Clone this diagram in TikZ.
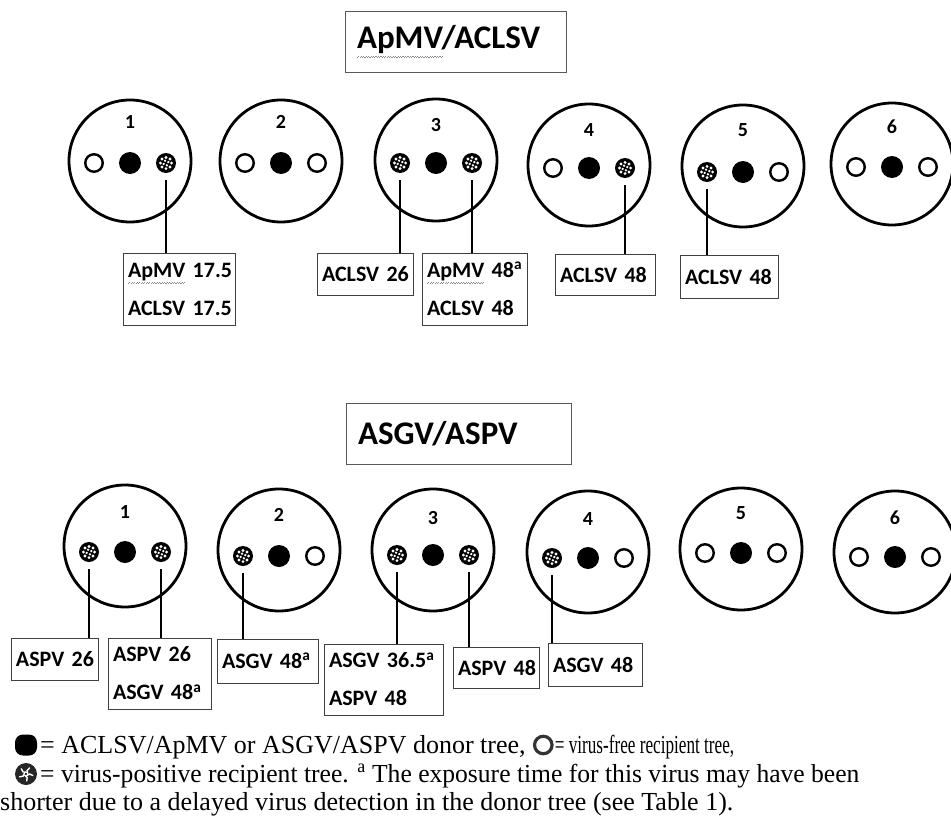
\documentclass[tikz,border=0pt]{standalone}
\usepackage{fontspec}
\usepackage{graphicx}
\setmainfont{Liberation Serif}
\newfontfamily\carlito{Carlito}
\usetikzlibrary{calc}

% grey wavy underline (spell-check mark) built from small staggered rules
\newsavebox\spellbox
\newcommand\spellmark[1]{\sbox\spellbox{#1}%
  \rlap{\textcolor{black!45}{\raisebox{-0.3em}{\hbox to\wd\spellbox{%
    \xleaders\hbox{\rule{1.2pt}{0.9pt}\raisebox{0.9pt}{\rule{1.2pt}{0.9pt}}}\hfill}}}}#1}

\tikzset{
  bigring/.style={circle, draw, line width=2.8pt, minimum size=122pt, inner sep=0pt},
  treenum/.style={font=\carlito\bfseries\fontsize{20}{20}\selectfont, inner sep=0pt},
  freetree/.style={circle, draw, line width=2.4pt, minimum size=17.5pt, inner sep=0pt},
  donortree/.style={circle, fill=black, minimum size=22pt, inner sep=0pt},
  postree/.style={circle, fill=black, minimum size=20pt, inner sep=0pt,
    path picture={
      \foreach \a in {0,45,...,315}
        \fill[white] ($(path picture bounding box.center)+(\a:5.6pt)$) circle (1.6pt);
      \foreach \a in {22,112,202,292}
        \fill[white] ($(path picture bounding box.center)+(\a:2.5pt)$) circle (1.3pt);
    }},
  lbl/.style={draw=black!75, line width=1pt,
    font=\carlito\bfseries\fontsize{22}{38}\selectfont,
    align=left, inner xsep=5pt, inner ysep=0pt},
  titlebox/.style={draw=black!65, line width=1pt,
    font=\carlito\bfseries\fontsize{33}{33}\selectfont,
    align=left, inner xsep=12pt, inner ysep=0pt},
  link/.style={line width=2pt, shorten <=7pt},
  legtext/.style={font=\fontsize{26}{29}\selectfont, inner sep=0pt, anchor=base west},
  legdonor/.style={rectangle, rounded corners=8pt, fill=black, minimum width=22pt,
    minimum height=21pt, inner sep=0pt},
  legfree/.style={circle, draw=black!80, line width=3.2pt, minimum size=17.5pt, inner sep=0pt},
  legpos/.style={circle, fill=black!85, minimum size=22pt, inner sep=0pt,
    path picture={
      \foreach \a in {0,72,...,288}
        \draw[white, line width=1.4pt, line cap=round]
          ($(path picture bounding box.center)+(\a:1.8pt)$) to[bend left=60]
          ($(path picture bounding box.center)+(\a+60:7pt)$);
    }},
}

% one tree plot: name, x, circle y, number y, row y, number, left tree, right tree
\newcommand\orchardtree[8]{%
  \node[bigring] (#1) at (#2,#3) {};
  \node[treenum] (#1n) at (#2,#4) {#6};
  \node[#7] (#1l) at (#2-36,#5) {};
  \node[donortree] (#1c) at (#2,#5) {};
  \node[#8] (#1r) at (#2+36,#5) {};
}

\begin{document}
\begin{tikzpicture}[x=1pt, y=-1pt]
\useasboundingbox (0,0) rectangle (951,830);

% ---------- ApMV / ACLSV ----------
\node[titlebox, text width=197pt, minimum height=61pt] (ttop) at (455.5,41.5) {\spellmark{ApMV}/ACLSV};

\orchardtree{t1}{130}{161}{122}{163}{1}{freetree}{postree}
\orchardtree{t2}{281}{161}{122}{163}{2}{freetree}{freetree}
\orchardtree{t3}{436}{160}{125}{163}{3}{postree}{postree}
\orchardtree{t4}{589}{165}{130}{168}{4}{freetree}{postree}
\orchardtree{t5}{743}{166}{130}{172}{5}{postree}{freetree}
\orchardtree{t6}{892}{164}{127}{167}{6}{freetree}{freetree}

\node[lbl, text width=102pt, minimum height=72pt] (a1) at (179,289) {\spellmark{ApMV}~17.5\\ACLSV~17.5};
\node[lbl, text width=86pt, minimum height=42pt] (a3l) at (365,274) {ACLSV~26};
\node[lbl, text width=95pt, minimum height=72pt] (a3r) at (474.5,289) {\spellmark{ApMV}~48\textsuperscript{a}\\ACLSV~48};
\node[lbl, text width=90pt, minimum height=41pt] (a4) at (605,274.5) {ACLSV~48};
\node[lbl, text width=88pt, minimum height=43pt] (a5) at (729,276.5) {ACLSV~48};

\draw[link] (t1r) -- (a1.north -| t1r);
\draw[link] (t3l) -- (a3l.north -| t3l);
\draw[link] (t3r) -- (a3r.north -| t3r);
\draw[link] (t4r) -- (a4.north -| t4r);
\draw[link] (t5l) -- (a5.north -| t5l);

% ---------- ASGV / ASPV ----------
\node[titlebox, text width=201pt, minimum height=61pt] (tbot) at (458.5,433.5) {ASGV/ASPV};

\orchardtree{b1}{125}{546}{512}{552}{1}{postree}{postree}
\orchardtree{b2}{279}{550}{515}{556}{2}{postree}{freetree}
\orchardtree{b3}{433}{550}{518}{555}{3}{postree}{postree}
\orchardtree{b4}{588}{552}{519}{558}{4}{postree}{freetree}
\orchardtree{b5}{741}{549}{513}{553}{5}{freetree}{freetree}
\orchardtree{b6}{895}{552}{518}{557}{6}{freetree}{freetree}

\node[lbl, text width=77pt, minimum height=42pt] (c1l) at (54.5,659) {ASPV~26};
\node[lbl, text width=93pt, minimum height=71pt] (c1r) at (159.5,673.5) {ASPV~26\\ASGV~48\textsuperscript{a}};
\node[lbl, text width=91pt, minimum height=44pt] (c2) at (267.5,661) {ASGV~48\textsuperscript{a}};
\node[lbl, text width=109pt, minimum height=71pt] (c3l) at (383.5,679.5) {ASGV~36.5\textsuperscript{a}\\ASPV~48};
\node[lbl, text width=76pt, minimum height=41pt] (c3r) at (496,667.5) {ASPV~48};
\node[lbl, text width=84pt, minimum height=43pt] (c4) at (595,664.5) {ASGV~48};

\draw[link] (b1l) -- (c1l.north -| b1l);
\draw[link] (b1r) -- (c1r.north -| b1r);
\draw[link] (b2l) -- (c2.north -| b2l);
\draw[link] (b3l) -- (c3l.north -| b3l);
\draw[link] (b3r) -- (c3r.north -| b3r);
\draw[link] (b4l) -- (c4.north -| b4l);

% ---------- key ----------
\node[legdonor] (k1) at (26,745) {};
\node[legtext] (k1t) at (40,753) {= ACLSV/ApMV or ASGV/ASPV donor tree,};
\node[legfree, anchor=west] (k2) at ([xshift=7pt, yshift=8pt]k1t.base east) {};
\node[legtext] (k2t) at ([xshift=1pt]k2.east |- k1t.base) {\scalebox{0.66}[1]{= virus-free recipient tree,}};
\node[legpos] (k3) at (26,774) {};
\node[legtext] (k3t) at (40,782) {\scalebox{0.984}[1]{= virus-positive recipient tree. \textsuperscript{a} The exposure time for this virus may have been}};
\node[legtext] (k4t) at (0,810) {shorter due to a delayed virus detection in the donor tree (see Table 1).};
\end{tikzpicture}
\end{document}
